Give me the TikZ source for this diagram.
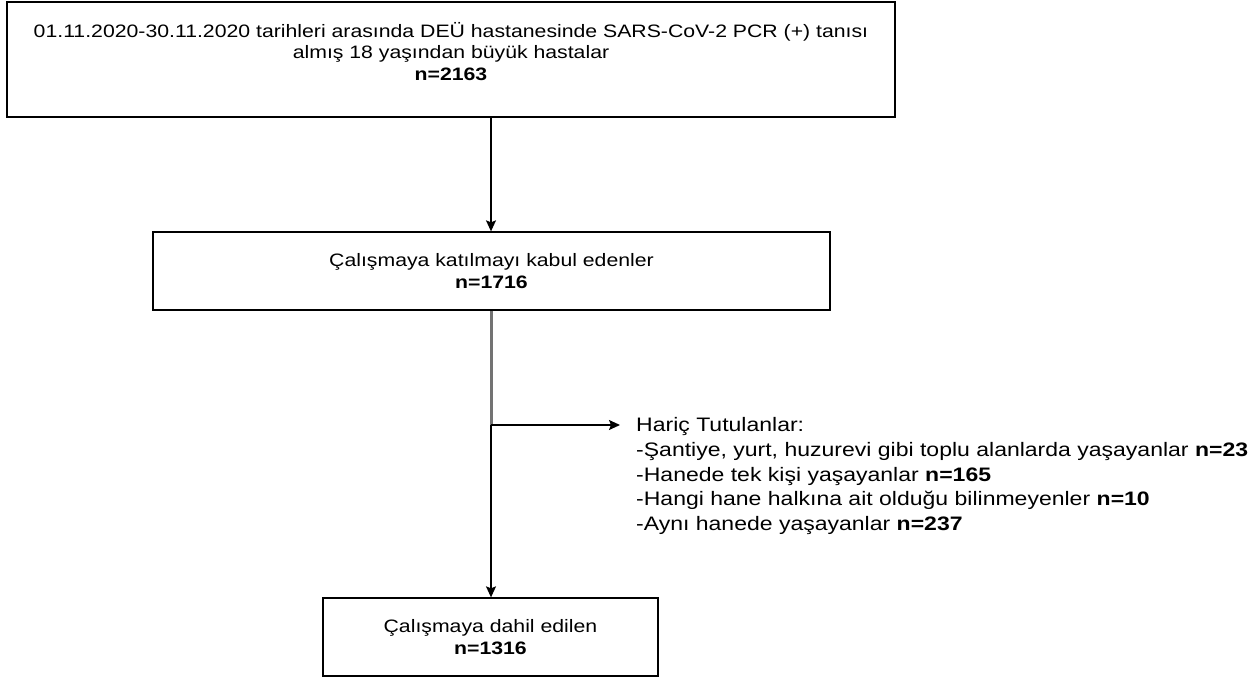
\documentclass[tikz,border=0pt]{standalone}
\usepackage{fontspec}
\setmainfont{Liberation Sans}[FakeStretch=1.18]
\usetikzlibrary{arrows.meta}
\begin{document}
\begin{tikzpicture}[x=1pt,y=-1pt,
  txt/.style={font=\fontsize{18}{21.5}\selectfont},
  box/.style={draw=black,line width=1.3pt,fill=white,inner sep=0pt,align=center,txt},
  arr/.style={draw=black,line width=1.3pt,-{Stealth[length=11pt,width=10pt,inset=2pt]}},
  grayline/.style={draw=black!55,line width=3pt}]
\useasboundingbox (0,0) rectangle (1259,677);
\node[box,minimum width=888pt,minimum height=115pt] (a) at (451,59.5)
  {01.11.2020-30.11.2020 tarihleri arasında DEÜ hastanesinde SARS-CoV-2 PCR (+) tanısı\\
   almış 18 yaşından büyük hastalar\\ \textbf{n=2163}\\[-5pt]\mbox{}};
\node[box,minimum width=677pt,minimum height=78pt] (b) at (491.5,271)
  {Çalışmaya katılmayı kabul edenler\\ \textbf{n=1716}};
\node[box,minimum width=335pt,minimum height=78pt] (d) at (490.5,637)
  {Çalışmaya dahil edilen\\ \textbf{n=1316}};
\coordinate (top) at (491,117);
\coordinate (br) at (491,425);
\node[font=\fontsize{19.5}{24.7}\selectfont,align=left,anchor=north west,inner xsep=16pt,inner ysep=0pt] (e) at (620,417.5)
  {Hariç Tutulanlar:\\
   -Şantiye, yurt, huzurevi gibi toplu alanlarda yaşayanlar \textbf{n=23}\\
   -Hanede tek kişi yaşayanlar \textbf{n=165}\\
   -Hangi hane halkına ait olduğu bilinmeyenler \textbf{n=10}\\
   -Aynı hanede yaşayanlar \textbf{n=237}};
\draw[arr] (a.south -| top) -- (b.north -| top);
\draw[grayline] (b.south -| br) -- (br);
\draw[arr] (br) -- (d.north -| br);
\draw[arr] (br) -- (br -| e.west);
\end{tikzpicture}
\end{document}
